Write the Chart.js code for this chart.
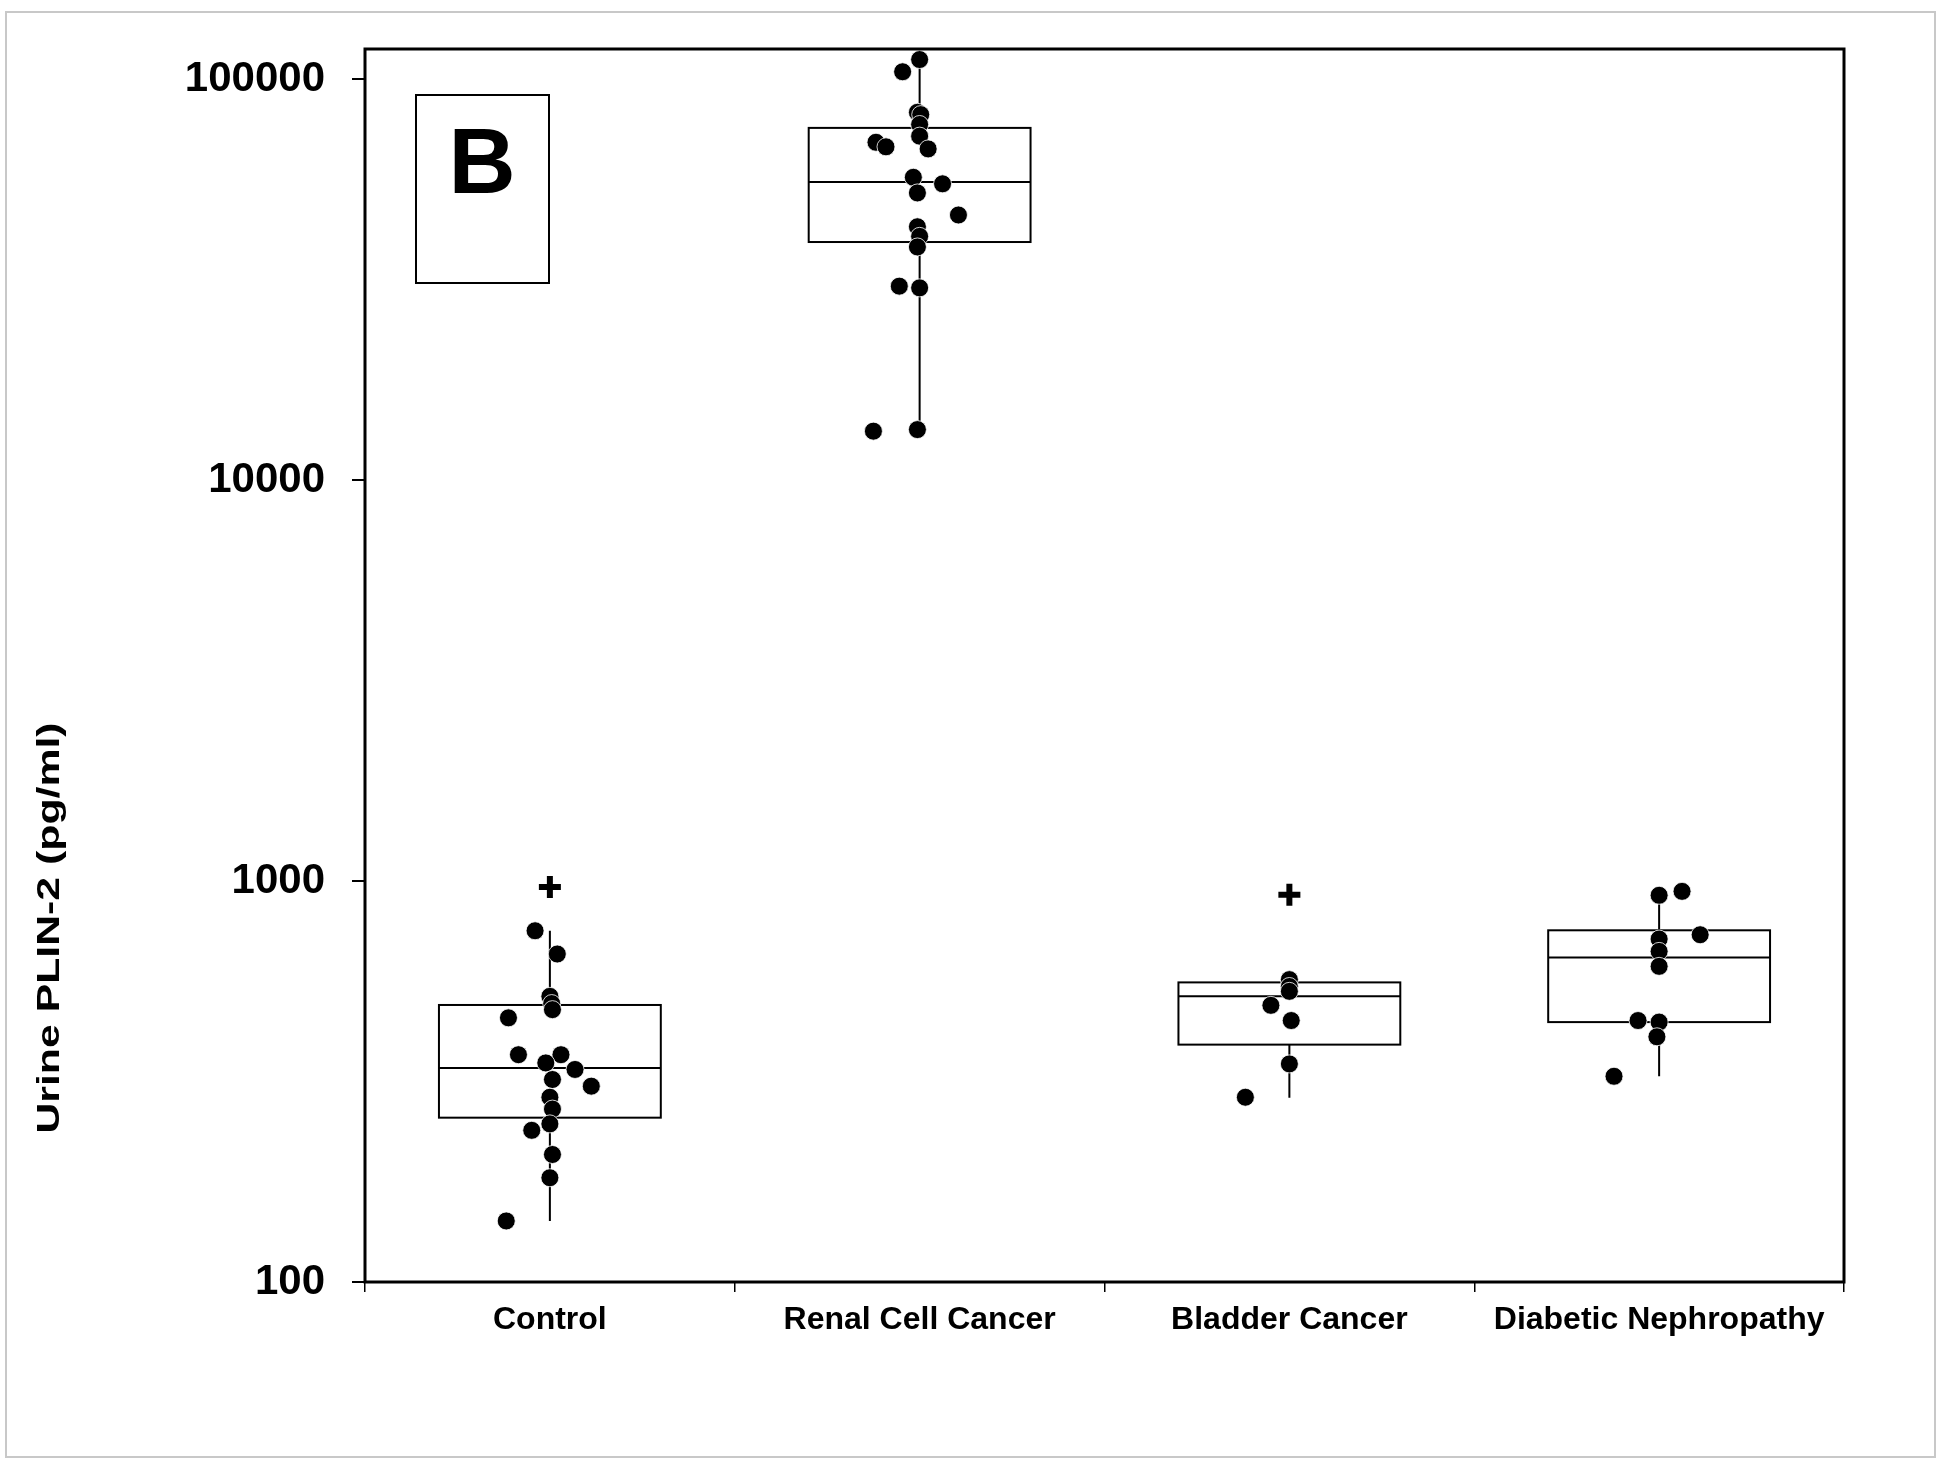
<!DOCTYPE html>
<html>
<head>
<meta charset="utf-8">
<script src="https://cdn.jsdelivr.net/npm/chart.js@4/dist/chart.umd.min.js"></script>
<style>
  html, body { margin: 0; padding: 0; background: #fff; }
</style>
</head>
<body>
<canvas id="plinChart" width="1950" height="1475"></canvas>
<script>
const categories = ['Control', 'Renal Cell Cancer', 'Bladder Cancer', 'Diabetic Nephropathy'];
const yTicks = [100, 1000, 10000, 100000];
const yTitle = 'Urine PLIN-2 (pg/ml)';
const panelLetter = 'B';

// box statistics, one entry per category
const q1 = [257, 39300, 391, 445];
const median = [342, 55500, 516, 645];
const q3 = [491, 75700, 559, 754];
const whiskerLow = [142, 13380, 288, 326];
const whiskerHigh = [752, 112100, 568, 922];

// outliers (+) per category
const outlierValues = [967, null, 925, null];

// individual samples and their sideways jitter (in category units)
const controlValues = [752, 658, 516, 495, 478, 456, 369, 369, 352, 339, 320, 308, 289, 270, 248, 239, 208, 182, 142];
const controlJitter = [-0.04, 0.02, 0, 0.005, 0.007, -0.112, -0.085, 0.03, -0.011, 0.068, 0.007, 0.112, 0, 0.007, 0, -0.049, 0.007, 0, -0.118];

const renalValues = [112100, 104500, 82800, 81700, 77200, 72200, 69700, 67900, 67100, 57000, 54900, 52100, 45900, 42900, 40600, 38200, 30500, 30200, 13260, 13380];
const renalJitter = [0, -0.046, -0.006, 0.003, 0, 0, -0.118, -0.091, 0.023, -0.017, 0.062, -0.006, 0.105, -0.006, 0, -0.006, -0.055, 0, -0.125, -0.006];

const bladderValues = [568, 546, 531, 490, 449, 350, 289];
const bladderJitter = [0, 0, 0, -0.05, 0.005, 0, -0.119];

const diabeticValues = [943, 922, 735, 717, 668, 613, 449, 445, 409, 326];
const diabeticJitter = [0.062, 0, 0.111, 0, 0, 0, -0.057, 0, -0.006, -0.122];

const groupValues = [controlValues, renalValues, bladderValues, diabeticValues];
const groupJitter = [controlJitter, renalJitter, bladderJitter, diabeticJitter];

const FONT = '"Liberation Sans", Arial, sans-serif';

const pointSets = groupValues.map((vals, i) => ({
  label: categories[i],
  data: vals.map((v, k) => ({ x: i + groupJitter[i][k], y: v })),
  pointRadius: 9,
  pointHoverRadius: 9,
  pointBackgroundColor: '#000',
  pointBorderColor: 'rgba(255,255,255,0.8)',
  pointBorderWidth: 1
}));

const outlierSet = {
  label: 'outliers',
  data: outlierValues.map((v, i) => v == null ? null : { x: i, y: v }).filter(p => p),
  pointStyle: 'cross',
  pointRadius: 11,
  pointHoverRadius: 11,
  pointBorderColor: '#000',
  pointBorderWidth: 6
};

// boxes, medians and whiskers drawn with the chart's scales
const boxPlugin = {
  id: 'boxes',
  beforeDatasetsDraw(chart) {
    const { ctx, scales: { x, y } } = chart;
    ctx.save();
    ctx.strokeStyle = '#000';
    ctx.lineWidth = 2;
    for (let i = 0; i < categories.length; i++) {
      const xl = x.getPixelForValue(i - 0.3);
      const xr = x.getPixelForValue(i + 0.3);
      const xc = x.getPixelForValue(i);
      const yq1 = y.getPixelForValue(q1[i]);
      const yq3 = y.getPixelForValue(q3[i]);
      const ym = y.getPixelForValue(median[i]);
      ctx.beginPath();
      ctx.moveTo(xc, y.getPixelForValue(whiskerLow[i]));
      ctx.lineTo(xc, yq1);
      ctx.moveTo(xc, yq3);
      ctx.lineTo(xc, y.getPixelForValue(whiskerHigh[i]));
      ctx.stroke();
      ctx.strokeRect(xl, yq3, xr - xl, yq1 - yq3);
      ctx.beginPath();
      ctx.moveTo(xl, ym);
      ctx.lineTo(xr, ym);
      ctx.stroke();
    }
    ctx.restore();
  },
  afterDraw(chart) {
    const { ctx, chartArea: a } = chart;
    ctx.save();
    // plot frame
    ctx.strokeStyle = '#000';
    ctx.lineWidth = 3;
    ctx.strokeRect(a.left, a.top, a.right - a.left, a.bottom - a.top);
    // panel letter box
    ctx.lineWidth = 2;
    ctx.strokeRect(a.left + 51, a.top + 46, 133, 188);
    ctx.fillStyle = '#000';
    ctx.font = 'bold 93px ' + FONT;
    ctx.textAlign = 'center';
    ctx.textBaseline = 'alphabetic';
    ctx.fillText(panelLetter, a.left + 117, a.top + 144);
    // y title
    ctx.translate(50, 928);
    ctx.rotate(-Math.PI / 2);
    ctx.scale(1.38, 1);
    ctx.font = 'bold 31px ' + FONT;
    ctx.textBaseline = 'middle';
    ctx.fillText(yTitle, 0, 0);
    ctx.restore();
    // outer frame
    ctx.save();
    ctx.strokeStyle = '#c8c8c8';
    ctx.lineWidth = 2;
    ctx.strokeRect(6, 12, 1929, 1445);
    ctx.restore();
  }
};

const bgPlugin = {
  id: 'bg',
  beforeDraw(chart) {
    const ctx = chart.ctx;
    ctx.save();
    ctx.fillStyle = '#fff';
    ctx.fillRect(0, 0, chart.width, chart.height);
    ctx.restore();
  }
};

new Chart(document.getElementById('plinChart'), {
  type: 'scatter',
  data: { datasets: [...pointSets, outlierSet] },
  plugins: [bgPlugin, boxPlugin],
  options: {
    responsive: false,
    devicePixelRatio: 1,
    animation: false,
    layout: { padding: { top: 49, right: 106, left: 0, bottom: 0 } },
    plugins: {
      legend: { display: false },
      tooltip: { enabled: false }
    },
    scales: {
      x: {
        type: 'linear',
        min: -0.5,
        max: 3.5,
        afterBuildTicks: s => { s.ticks = categories.map((c, i) => ({ value: i })); },
        afterFit: s => { s.height = 193; s.paddingLeft = 0; s.paddingRight = 0; },
        border: { display: false },
        grid: { offset: true, drawOnChartArea: false, tickLength: 10, color: '#000', lineWidth: 1.5 },
        ticks: {
          callback: (v, idx) => categories[idx],
          color: '#000',
          font: { family: FONT, size: 32, weight: 'bold' },
          padding: 9,
          maxRotation: 0
        }
      },
      y: {
        type: 'logarithmic',
        min: 100,
        max: 119100,
        afterBuildTicks: s => { s.ticks = yTicks.map(v => ({ value: v })); },
        afterFit: s => { s.width = 365; s.paddingTop = 0; s.paddingBottom = 0; },
        border: { display: false },
        grid: { drawOnChartArea: false, tickLength: 13, color: '#000', lineWidth: 2 },
        ticks: {
          callback: v => String(v),
          color: '#000',
          font: { family: FONT, size: 42, weight: 'bold' },
          padding: 27
        }
      }
    }
  }
});
</script>
</body>
</html>
